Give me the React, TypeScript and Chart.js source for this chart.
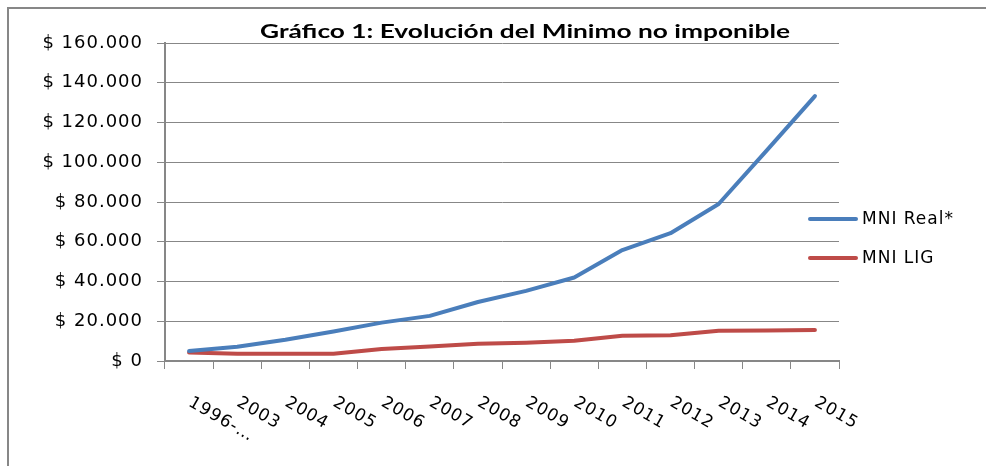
import React, { useEffect, useRef } from "react";
import { Chart, registerables } from "chart.js";

Chart.register(...registerables);

// ---- data ----
const categories = ["1996-…", "2003", "2004", "2005", "2006", "2007", "2008", "2009", "2010", "2011", "2012", "2013", "2014", "2015"];
const mniReal = [5000, 7200, 10700, 14800, 19300, 22700, 29700, 35300, 42000, 55800, 64300, 79000, 106000, 133300];
const mniLig = [4300, 3650, 3650, 3650, 6000, 7300, 8700, 9200, 10200, 12700, 12900, 15200, 15400, 15600];
const seriesNames = ["MNI Real*", "MNI LIG"];
const seriesColors = ["#4A7EBB", "#BE4B48"];
const yMin = 0;
const yMax = 160000;
const yStep = 20000;
const chartTitle = "Gráfico 1: Evolución del Minimo no imponible";

const W = 986;
const H = 466;
const GRID = "#878787";
const FONT = '"DejaVu Sans", sans-serif';

function fmtMoney(v: number): string {
  const s = Math.round(v).toString().replace(/\B(?=(\d{3})+(?!\d))/g, ".");
  return "$ " + s;
}

const decorPlugin = {
  id: "decor",
  beforeDraw(chart: any) {
    const ctx = chart.ctx;
    ctx.save();
    ctx.fillStyle = "#ffffff";
    ctx.fillRect(0, 0, chart.width, chart.height);
    ctx.strokeStyle = GRID;
    ctx.lineWidth = 2;
    ctx.beginPath();
    ctx.moveTo(8, chart.height + 5);
    ctx.lineTo(8, 8);
    ctx.lineTo(chart.width + 5, 8);
    ctx.stroke();
    ctx.restore();
    ctx.letterSpacing = "1px";
  },
  afterDraw(chart: any) {
    const ctx = chart.ctx;
    const xs = chart.scales.x;

    // title
    ctx.save();
    ctx.letterSpacing = "0px";
    ctx.font = `bold 18px Lato, "DejaVu Sans", sans-serif`;
    ctx.fillStyle = "#000";
    ctx.textAlign = "center";
    ctx.textBaseline = "alphabetic";
    const w = ctx.measureText(chartTitle).width;
    ctx.translate(525, 38);
    ctx.scale(530 / w, 1);
    ctx.fillText(chartTitle, 0, 0);
    ctx.restore();

    // x labels, rotated clockwise
    ctx.save();
    ctx.letterSpacing = "1px";
    ctx.font = `17px ${FONT}`;
    ctx.fillStyle = "#000";
    ctx.textAlign = "left";
    ctx.textBaseline = "top";
    categories.forEach((lab, i) => {
      const x = xs.getPixelForValue(i);
      ctx.save();
      ctx.translate(x + 5, 394);
      ctx.rotate(Math.PI / 6);
      ctx.fillText(lab, 0, 0);
      ctx.restore();
    });
    ctx.restore();

    // legend
    ctx.save();
    ctx.letterSpacing = "1px";
    ctx.font = `17px ${FONT}`;
    ctx.fillStyle = "#000";
    ctx.textAlign = "left";
    ctx.textBaseline = "middle";
    const ys = [219, 258];
    chart.data.datasets.forEach((ds: any, i: number) => {
      ctx.strokeStyle = ds.borderColor;
      ctx.lineWidth = 4;
      ctx.lineCap = "round";
      ctx.beginPath();
      ctx.moveTo(810, ys[i]);
      ctx.lineTo(856, ys[i]);
      ctx.stroke();
      ctx.fillText(ds.label, 862, ys[i] + 1);
    });
    ctx.restore();
  },
};

export default function App() {
  const ref = useRef<HTMLCanvasElement | null>(null);

  useEffect(() => {
    if (!ref.current) return;
    const chart = new Chart(ref.current, {
      type: "line",
      data: {
        labels: categories,
        datasets: [
          {
            label: seriesNames[0],
            data: mniReal,
            borderColor: seriesColors[0],
            backgroundColor: seriesColors[0],
            borderWidth: 4,
            borderCapStyle: "round",
            borderJoinStyle: "round",
            pointRadius: 0,
            tension: 0,
            fill: false,
          },
          {
            label: seriesNames[1],
            data: mniLig,
            borderColor: seriesColors[1],
            backgroundColor: seriesColors[1],
            borderWidth: 4,
            borderCapStyle: "round",
            borderJoinStyle: "round",
            pointRadius: 0,
            tension: 0,
            fill: false,
          },
        ],
      },
      options: {
        responsive: false,
        animation: false,
        devicePixelRatio: 1,
        layout: { padding: { top: 43, right: 147, left: 0, bottom: 0 } },
        plugins: {
          legend: { display: false },
          title: { display: false },
          tooltip: { enabled: false },
        },
        scales: {
          x: {
            type: "category",
            offset: true,
            grid: {
              offset: true,
              drawOnChartArea: false,
              drawTicks: true,
              tickLength: 8,
              color: GRID,
              lineWidth: 1,
            },
            border: { color: GRID, width: 2 },
            ticks: { display: false },
            afterFit: (s: any) => {
              s.height = 105;
            },
          },
          y: {
            min: yMin,
            max: yMax,
            ticks: {
              stepSize: yStep,
              color: "#000",
              font: { family: FONT, size: 18 },
              padding: 14,
              callback: (v: any) => fmtMoney(Number(v)),
            },
            grid: { color: GRID, lineWidth: 1, tickLength: 8, drawTicks: true },
            border: { color: GRID, width: 2 },
            afterFit: (s: any) => {
              s.width = 165;
            },
          },
        },
      },
      plugins: [decorPlugin],
    });
    return () => chart.destroy();
  }, []);

  return (
    <div style={{ position: "absolute", left: 0, top: 0, width: W, height: H }}>
      <canvas ref={ref} width={W} height={H} style={{ display: "block", width: W, height: H }} />
    </div>
  );
}
